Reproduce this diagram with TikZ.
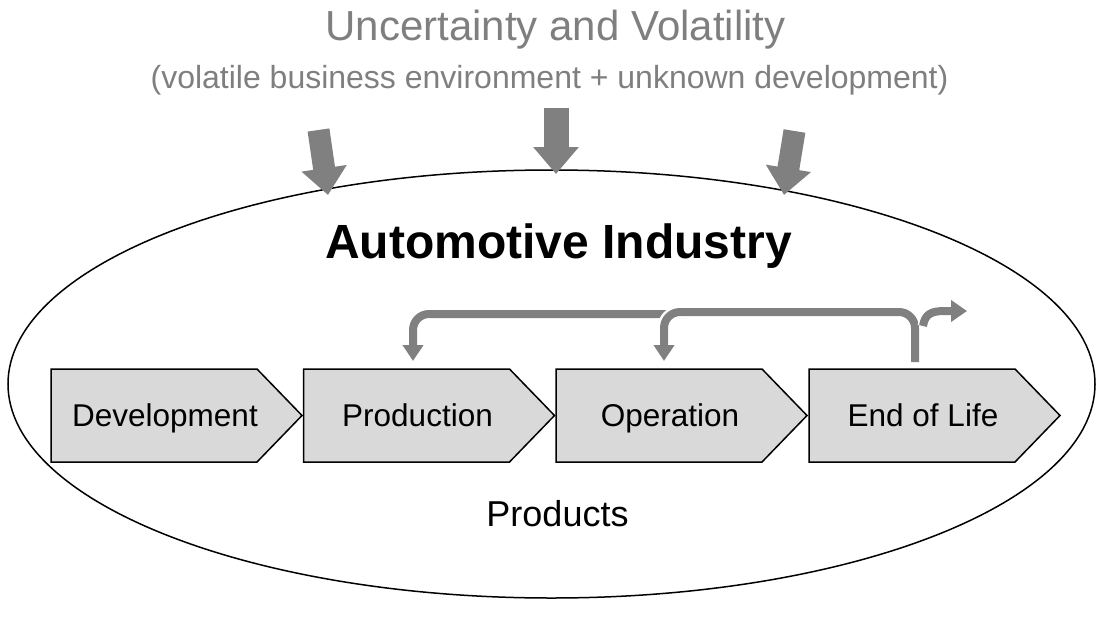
\documentclass[tikz,border=0pt]{standalone}
\usepackage{fontspec}
\setmainfont{Liberation Sans}
\usetikzlibrary{arrows.meta}
\definecolor{arrowgray}{HTML}{808080}
\definecolor{titlegray}{HTML}{7F7F7F}
\definecolor{boxfill}{HTML}{D9D9D9}
\begin{document}
\begin{tikzpicture}[x=1pt,y=-1pt,
  stagebox/.style={draw=black, line width=1.5pt, fill=boxfill, line join=miter},
  stagetext/.style={anchor=base, font=\fontsize{31.5}{36}\selectfont, inner sep=0pt},
  bigarrow/.style={draw=arrowgray, line width=22pt, -{Triangle[width=44pt,length=27pt]}},
  looparrow/.style={draw=arrowgray, line width=8pt, rounded corners=16pt, -{Triangle[width=20pt,length=16pt]}},
  casing/.style={draw=white, line width=13pt, rounded corners=16pt},
]
\useasboundingbox (0,0) rectangle (1097,624);

% ellipse
\draw[line width=1.5pt] (551.5,384) ellipse [x radius=543.5, y radius=214];

% titles
\node[anchor=base, text=titlegray, font=\fontsize{42}{48}\selectfont, inner sep=0pt] (title) at (555.5,40) {Uncertainty and Volatility};
\node[anchor=base, text=titlegray, font=\fontsize{32}{38}\selectfont, inner sep=0pt] (subtitle) at (549.5,88) {(volatile business environment + unknown development)};
\node[anchor=base, font=\fontsize{48}{56}\selectfont\bfseries, inner sep=0pt] (industry) at (558.5,258) {Automotive Industry};
\node[anchor=base, font=\fontsize{36}{42}\selectfont, inner sep=0pt] (products) at (557.5,526) {Products};

% big arrows
\draw[bigarrow] (318.5,130) -- (328,195);
\draw[bigarrow, line width=25pt] (556,108) -- (556,174);
\draw[bigarrow] (794.5,131) -- (784,195);

% stage boxes
\foreach \l in {51,303.5,556,809}{
  \draw[stagebox] (\l,369) -- ++(206,0) -- ++(45,46.5) -- ++(-45,46.5) -- ++(-206,0) -- cycle;
}
\node[stagetext] (dev) at (165,426) {Development};
\node[stagetext] (prod) at (417.5,426) {Production};
\node[stagetext] (op) at (670,426) {Operation};
\node[stagetext] (eol) at (923,426) {End of Life};

% connectors
\coordinate (prodin) at (413,361);
\coordinate (opin) at (664,361);
\coordinate (eolout) at (915,362);
\coordinate (exit) at (967,311);

\draw[looparrow] (690,314) -- (prodin |- 0,314) -- (prodin);
\draw[casing] (eolout) -- (eolout |- 0,312) -- (opin |- 0,312) -- (opin |- 0,345);
\draw[looparrow] (eolout) -- (eolout |- 0,312) -- (opin |- 0,312) -- (opin);
\draw[draw=white, line width=11pt] (923,326) .. controls (925,314) and (931,311) .. (945,311) -- (950,311);
\draw[draw=arrowgray, line width=8pt, -{Triangle[width=21pt,length=16pt]}] (923,326) .. controls (925,314) and (931,311) .. (945,311) -- (exit);
\end{tikzpicture}
\end{document}
